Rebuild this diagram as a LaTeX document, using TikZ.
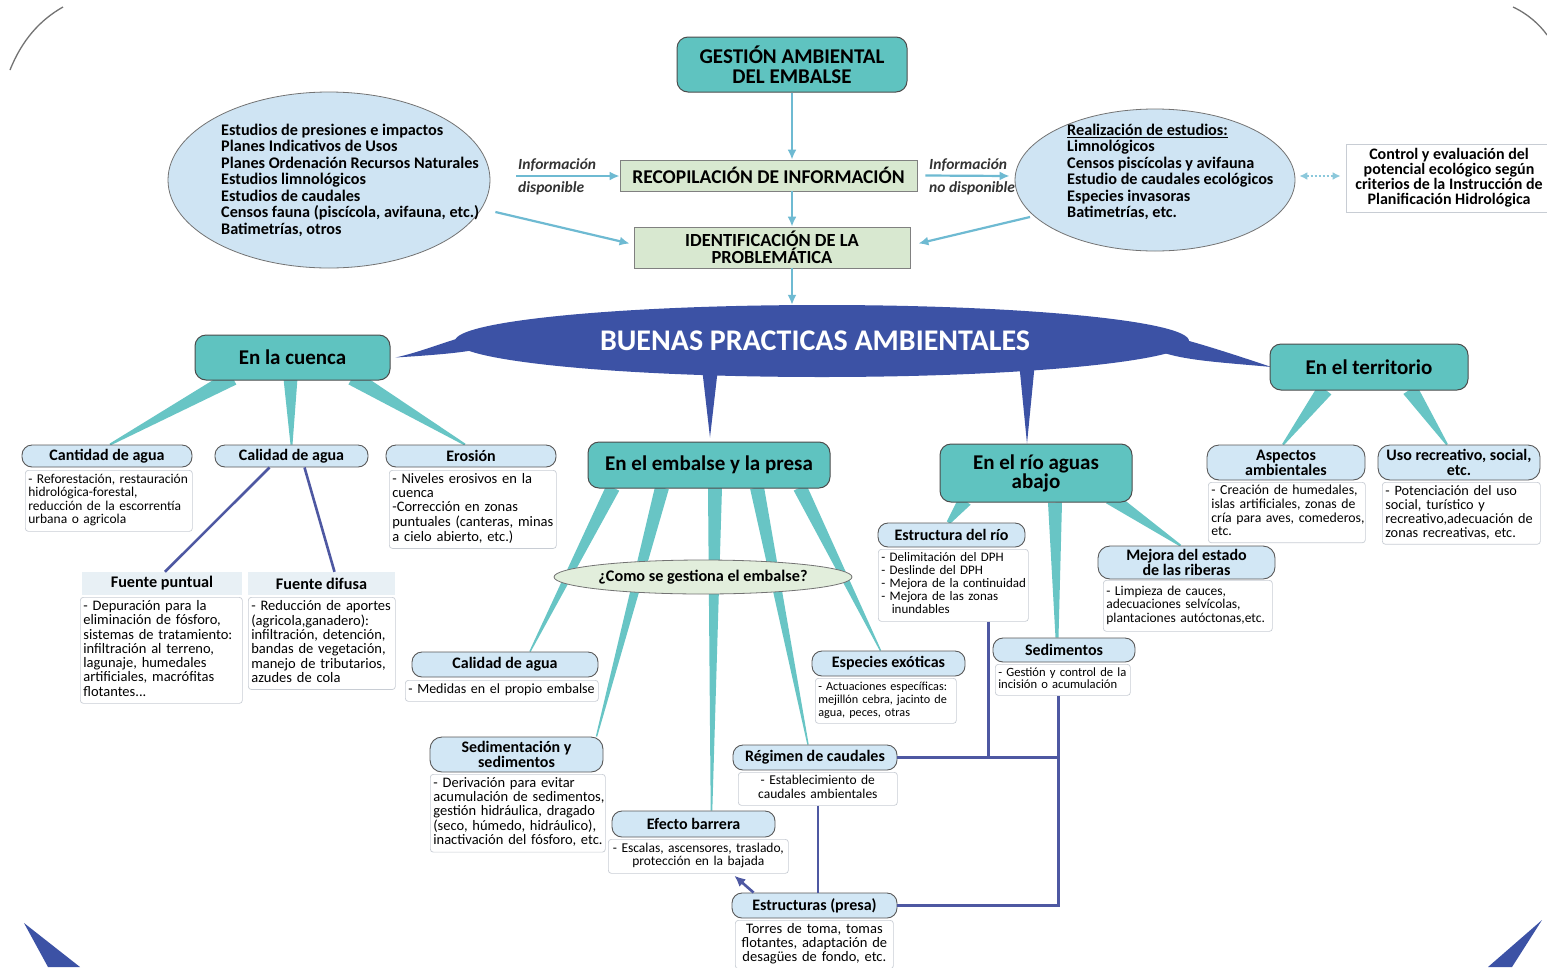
\documentclass[tikz,border=0pt]{standalone}
\usepackage{fontspec}
\setmainfont{Carlito}
\usetikzlibrary{calc,arrows.meta,shapes.geometric}
\pgfdeclarelayer{background}
\pgfsetlayers{background,main}
\definecolor{tealbox}{RGB}{95,195,192}
\definecolor{tealw}{RGB}{104,197,197}
\definecolor{bp}{RGB}{60,82,165}
\definecolor{blinec}{RGB}{78,88,162}
\definecolor{hdrblue}{RGB}{210,231,245}
\definecolor{ellblue}{RGB}{207,228,243}
\definecolor{greenbox}{RGB}{216,232,208}
\definecolor{arrc}{RGB}{110,186,210}
\definecolor{fuentebg}{RGB}{232,240,245}
\definecolor{gestbg}{RGB}{226,238,220}
\definecolor{descgray}{RGB}{200,205,212}
\newcommand{\myfs}[2]{\fontsize{#1}{#2}\selectfont}
\newcommand{\llines}[1]{\begin{tabular}{@{}l@{}}#1\end{tabular}}
\newcommand{\clines}[1]{\begin{tabular}{@{}c@{}}#1\end{tabular}}
\newcommand{\taper}[5]{\fill[#1] ($(#2)!#4!90:(#3)$) -- ($(#3)!#5!-90:(#2)$) -- ($(#3)!#5!90:(#2)$) -- ($(#2)!#4!-90:(#3)$) -- cycle;}
\begin{document}
\begin{tikzpicture}[x=1pt,y=-1pt,
  mainbox/.style={draw=black!70, fill=tealbox, rounded corners=11pt, line width=1pt, align=center, font=\bfseries\myfs{21}{19}, inner sep=0pt},
  greenbx/.style={draw=black!50, fill=greenbox, line width=0.8pt, align=center, inner sep=0pt},
  hdr/.style={draw=black!65, fill=hdrblue, rounded corners=10pt, line width=0.9pt, align=center, font=\bfseries\myfs{16}{15}, inner sep=0pt},
  fuentehdr/.style={fill=fuentebg, align=center, font=\bfseries\myfs{16.2}{15}, inner sep=0pt},
  desc/.style={draw=descgray, fill=white, rounded corners=3pt, line width=0.7pt, align=left, font=\myfs{13.5}{13.5}, inner sep=3pt, anchor=north west},
  desccen/.style={desc, align=center},
  ellbox/.style={ellipse, draw=black!55, fill=ellblue, line width=0.8pt, inner sep=0pt},
  elltext/.style={anchor=west, align=left, inner sep=0pt, font=\bfseries\myfs{16.2}{16.5}},
  infolab/.style={anchor=west, inner sep=0pt, font=\bfseries\itshape\myfs{15.5}{15}, text=black!80},
  toparrow/.style={draw=arrc, line width=2.2pt, -{Latex[length=10pt,width=9pt]}},
  blueconn/.style={draw=blinec, line width=2.6pt},
]
\useasboundingbox (0,0) rectangle (1547,967);
\begin{pgfonlayer}{background}
\fill[white] (0,0) rectangle (1547,967);
\end{pgfonlayer}

% corner decorations
\draw[black!55, line width=1.3pt] (10,70) .. controls (22,40) and (40,20) .. (63,7);
\draw[black!55, line width=1.3pt] (1513,7) .. controls (1528,14) and (1540,25) .. (1547,35);
\fill[bp] (24,923) -- (80,967) -- (48,967) -- cycle;
\fill[bp] (1542,920) -- (1512,967) -- (1488,967) -- cycle;

% top part
\node[mainbox, minimum width=230, minimum height=55, font=\bfseries\myfs{21}{19.5}] (gestion) at (792,64.5) {GESTIÓN AMBIENTAL\\DEL EMBALSE};
\node[greenbx, minimum width=297, minimum height=31, font=\bfseries\myfs{19.5}{18}] (recop) at (768.5,175.5) {RECOPILACIÓN DE INFORMACIÓN};
\node[greenbx, minimum width=276, minimum height=41, font=\bfseries\myfs{18.5}{16.5}] (ident) at (772,247.5) {IDENTIFICACIÓN DE LA\\PROBLEMÁTICA};

\node[ellbox, minimum width=322, minimum height=176] (leftell) at (329,180) {};
\node[elltext] (lefttxt) at (221,180) {Estudios de presiones e impactos\\Planes Indicativos de Usos\\Planes Ordenación Recursos Naturales\\Estudios limnológicos\\Estudios de caudales\\Censos fauna (piscícola, avifauna, etc.)\\Batimetrías, otros};

\node[ellbox, minimum width=280, minimum height=142] (rightell) at (1155,180) {};
\node[elltext] (righttxt) at (1067,172) {\underline{Realización de estudios:}\\Limnológicos\\Censos piscícolas y avifauna\\Estudio de caudales ecológicos\\Especies invasoras\\Batimetrías, etc.};

\node[draw=descgray, fill=white, line width=0.8pt, align=center, inner sep=0pt, minimum width=206, minimum height=68, font=\bfseries\myfs{16}{15}] (ctrl) at (1449,178) {Control y evaluación del\\potencial ecológico según\\criterios de la Instrucción de\\Planificación Hidrológica};

\node[infolab] (il1) at (518,165) {Información};
\node[infolab] (il2) at (518,188) {disponible};
\node[infolab] (ir1) at (929,165) {Información};
\node[infolab] (ir2) at (929,188) {no disponible};

\coordinate (ia) at (516,176);
\coordinate (la2) at ($(leftell.east)+(5,32)$);
\coordinate (ra2) at ($(rightell.center)+(-125,37)$);

\draw[toparrow] (gestion.south) -- (gestion.south |- recop.north);
\draw[toparrow] (recop.south -| gestion.south) -- (ident.north -| gestion.south);
\draw[toparrow] (ia) -- (ia -| recop.west);
\draw[toparrow] ($(recop.east)+(8,0)$) -- ($(rightell.west)+(-5,-4)$);
\draw[toparrow] (la2) -- ($(ident.west)+(-4,-4)$);
\draw[toparrow] (ra2) -- ($(ident.east)+(8,-4)$);
\draw[draw=arrc!80, line width=2pt, dotted, {Latex[length=8pt,width=8pt]}-{Latex[length=8pt,width=8pt]}] ($(rightell.east)+(4,-4)$) -- ($(ctrl.west)+(-5,-2)$);

% central ellipse
\node[ellipse, fill=bp, minimum width=734, minimum height=72, inner sep=0pt] (buenas) at (822,341) {};
\node[text=white, font=\bfseries\myfs{30}{28}, inner sep=0pt] (buenastxt) at (815,341) {BUENAS PRACTICAS AMBIENTALES};
\draw[toparrow] (ident.south -| gestion.south) -- (buenas.north -| gestion.south);

% level 1 boxes
\node[mainbox, minimum width=195, minimum height=45] (cuenca) at (292.5,357.5) {En la cuenca};
\node[mainbox, minimum width=198, minimum height=46] (territorio) at (1369,367) {En el territorio};
\node[mainbox, minimum width=242, minimum height=46] (embalse) at (709,465) {En el embalse y la presa};
\node[mainbox, minimum width=192, minimum height=58] (rio) at (1036,473) {En el río aguas\\abajo};

% spikes of the central ellipse
\coordinate (spL) at ($(cuenca.east)+(5,0)$);
\coordinate (spR) at ($(territorio.west)+(2,0)$);
\coordinate (spB1) at ($(embalse.north)+(1,-4)$);
\coordinate (spB2) at ($(rio.north)+(-9,0)$);
\begin{pgfonlayer}{background}
\fill[bp] ($(buenas.west)+(30,-10)$) .. controls ($(buenas.west)+(-10,0)$) and ($(buenas.west)+(-30,10)$) .. (spL) .. controls ($(buenas.west)+(-20,14)$) and ($(buenas.west)+(5,12)$) .. ($(buenas.west)+(25,8)$) -- cycle;
\fill[bp] ($(buenas.east)+(-30,-8)$) .. controls ($(buenas.east)+(10,2)$) and ($(buenas.east)+(40,12)$) .. (spR) .. controls ($(buenas.east)+(40,22)$) and ($(buenas.east)+(0,20)$) .. ($(buenas.east)+(-25,12)$) -- cycle;
\fill[bp] (702,368) -- (spB1) -- (718,368) -- cycle;
\fill[bp] (1019,362) -- (spB2) -- (1035,362) -- cycle;
\end{pgfonlayer}

% En la cuenca
\node[hdr, minimum width=170, minimum height=22] (cantidad) at (107,456) {Cantidad de agua};
\node[hdr, minimum width=153, minimum height=22] (calidad1) at (291.5,456) {Calidad de agua};
\node[hdr, minimum width=170, minimum height=22] (erosion) at (471,456) {Erosión};
\node[desc, text width=161, minimum height=61] (cantidadd) at (25,470) {\llines{- Reforestación, restauración\\hidrológica-forestal,\\reducción de la escorrentía\\urbana o agricola}};
\node[desc, text width=161, minimum height=76, font=\myfs{14.5}{14}] (erosiond) at (389,470) {\llines{- Niveles erosivos en la\\cuenca\\-Corrección en zonas\\puntuales (canteras, minas\\a cielo abierto, etc.)}};
\node[fuentehdr, minimum width=160, minimum height=23] (fpuntual) at (162,583.5) {Fuente puntual};
\node[fuentehdr, minimum width=147, minimum height=23] (fdifusa) at (321.5,583.5) {Fuente difusa};
\node[desc, text width=156, minimum height=106, font=\myfs{14.5}{14}] (fpuntuald) at (80,597) {\llines{- Depuración para la\\eliminación de fósforo,\\sistemas de tratamiento:\\infiltración al terreno,\\lagunaje, humedales\\artificiales, macrófitas\\flotantes...}};
\node[desc, text width=141, minimum height=88, font=\myfs{14.5}{14}] (fdifusad) at (248,597) {\llines{- Reducción de aportes\\(agricola,ganadero):\\infiltración, detención,\\bandas de vegetación,\\manejo de tributarios,\\azudes de cola}};

% En el embalse
\node[ellipse, draw=black!55, fill=gestbg, line width=0.8pt, minimum width=298, minimum height=34, inner sep=0pt, font=\bfseries\myfs{16.2}{15}] (gestiona) at (703,577) {¿Como se gestiona el embalse?};
\node[hdr, minimum width=186, minimum height=25] (calidad2) at (505,664.5) {Calidad de agua};
\node[desc, text width=187, minimum height=21, font=\myfs{14}{14}] (calidad2d) at (405,680) {\llines{- Medidas en el propio embalse}};
\node[hdr, minimum width=173, minimum height=35, rounded corners=12pt] (sedim) at (516.5,754.5) {Sedimentación y\\sedimentos};
\node[desc, text width=169, minimum height=77, font=\myfs{14.5}{14}] (sedimd) at (430,774) {\llines{- Derivación para evitar\\acumulación de sedimentos,\\gestión hidráulica, dragado\\(seco, húmedo, hidráulico),\\inactivación del fósforo, etc.}};
\node[hdr, minimum width=163, minimum height=26] (efecto) at (693.5,824) {Efecto barrera};
\node[desccen, text width=174, minimum height=34] (efectod) at (608,839) {\clines{- Escalas, ascensores, traslado,\\protección en la bajada}};
\node[hdr, minimum width=164, minimum height=25] (regimen) at (815,757.5) {Régimen de caudales};
\node[desccen, text width=153, minimum height=31] (regimend) at (738,772) {\clines{- Establecimiento de\\caudales ambientales}};
\node[hdr, minimum width=153, minimum height=25] (especies) at (888.5,663.5) {Especies exóticas};
\node[desc, text width=135, minimum height=44, font=\myfs{12.2}{13}] (especiesd) at (815,678) {\llines{- Actuaciones específicas:\\mejillón cebra, jacinto de\\agua, peces, otras}};
\node[hdr, minimum width=165, minimum height=25] (estruct) at (814.5,905.5) {Estructuras (presa)};
\node[desccen, text width=152, minimum height=46, font=\myfs{14.5}{13.5}] (estructd) at (735,920) {\clines{Torres de toma, tomas\\flotantes, adaptación de\\desagües de fondo, etc.}};

% En el rio
\node[hdr, minimum width=147, minimum height=24] (estrio) at (951.5,535) {Estructura del río};
\node[desc, text width=144, minimum height=72, font=\myfs{13}{13}] (estriod) at (878,549) {\llines{- Delimitación del DPH\\- Deslinde del DPH\\- Mejora de la continuidad\\- Mejora de las zonas\\\hspace*{0.8em}inundables}};
\node[hdr, minimum width=142, minimum height=24] (sedimentos) at (1064,650) {Sedimentos};
\node[desc, text width=129, minimum height=30, font=\myfs{12.6}{12.5}] (sedimentosd) at (995,664) {\llines{- Gestión y control de la\\incisión o acumulación}};
\node[hdr, minimum width=177, minimum height=33, rounded corners=12pt] (mejora) at (1186.5,562.5) {Mejora del estado\\de las riberas};
\node[desc, text width=163, minimum height=51] (mejorad) at (1103,580) {\llines{- Limpieza de cauces,\\adecuaciones selvícolas,\\plantaciones autóctonas,etc.}};

% En el territorio
\node[hdr, minimum width=158, minimum height=35, rounded corners=12pt] (aspectos) at (1286,462.5) {Aspectos\\ambientales};
\node[desc, text width=151, minimum height=58, font=\myfs{13.8}{13.5}] (aspectosd) at (1208,482) {\llines{- Creación de humedales,\\islas artificiales, zonas de\\cría para aves, comederos,\\etc.}};
\node[hdr, minimum width=162, minimum height=35, rounded corners=12pt] (uso) at (1459,462.5) {Uso recreativo, social,\\etc.};
\node[desc, text width=152, minimum height=58, font=\myfs{14.3}{13.5}] (usod) at (1382,482) {\llines{- Potenciación del uso\\social, turístico y\\recreativo,adecuación de\\zonas recreativas, etc.}};

% tapered teal connectors
\coordinate (c1a) at ($(cuenca.south)+(-60,-3)$);
\coordinate (c1b) at ($(cantidad.north)+(3,0)$);
\coordinate (c2a) at ($(cuenca.south)+(-2,-2)$);
\coordinate (c2b) at ($(calidad1.north)+(0,0)$);
\coordinate (c3a) at ($(cuenca.south)+(60,-3)$);
\coordinate (c3b) at ($(erosion.north)+(-6,0)$);
\coordinate (e1a) at ($(embalse.south)+(-96,-1)$);
\coordinate (e1b) at ($(calidad2.north)+(25,0)$);
\coordinate (e2a) at ($(embalse.south)+(-47,-1)$);
\coordinate (e2b) at ($(sedim.north)+(80,0)$);
\coordinate (e3a) at ($(embalse.south)+(6,-1)$);
\coordinate (e3b) at ($(efecto.north)+(18,0)$);
\coordinate (e4a) at ($(embalse.south)+(48,-1)$);
\coordinate (e4b) at ($(regimen.north)+(-7,0)$);
\coordinate (e5a) at ($(embalse.south)+(91,-1)$);
\coordinate (e5b) at ($(especies.north)+(-8,0)$);
\coordinate (r1a) at ($(rio.south)+(-71,-2)$);
\coordinate (r1b) at ($(estrio.north)+(-3,0)$);
\coordinate (r2a) at ($(rio.south)+(19,0)$);
\coordinate (r2b) at ($(sedimentos.north)+(-7,0)$);
\coordinate (r3a) at ($(rio.south)+(74,-5)$);
\coordinate (r3b) at ($(mejora.north)+(-6,0)$);
\coordinate (t1a) at ($(territorio.south)+(-44,-1)$);
\coordinate (t1b) at ($(aspectos.north)+(-3,0)$);
\coordinate (t2a) at ($(territorio.south)+(41,-1)$);
\coordinate (t2b) at ($(uso.north)+(-12,0)$);
\begin{pgfonlayer}{background}
\taper{tealw}{c1a}{c1b}{8pt}{1pt}
\taper{tealw}{c2a}{c2b}{7pt}{1pt}
\taper{tealw}{c3a}{c3b}{8pt}{1pt}
\taper{tealw}{e1a}{e1b}{7pt}{0.7pt}
\taper{tealw}{e2a}{e2b}{7pt}{0.7pt}
\taper{tealw}{e3a}{e3b}{7pt}{0.8pt}
\taper{tealw}{e4a}{e4b}{7pt}{0.7pt}
\taper{tealw}{e5a}{e5b}{7pt}{0.7pt}
\taper{tealw}{r1a}{r1b}{7pt}{2pt}
\taper{tealw}{r2a}{r2b}{7pt}{1.5pt}
\taper{tealw}{r3a}{r3b}{7pt}{1pt}
\taper{tealw}{t1a}{t1b}{8pt}{1pt}
\taper{tealw}{t2a}{t2b}{8pt}{1pt}
\end{pgfonlayer}

% blue connectors
\draw[blueconn] ($(calidad1.south)+(-22,0)$) -- ($(fpuntual.north)+(3,0)$);
\draw[blueconn] ($(calidad1.south)+(13,0)$) -- ($(fdifusa.north)+(13,0)$);
\draw[blueconn] (regimend.south) -- (regimend.south |- estruct.north);
\draw[blueconn, -{Latex[length=11pt,width=10pt]}] ($(estruct.north west)+(22,0)$) -- ($(efectod.south)+(36,2)$);
\coordinate (sedbot) at ($(sedimentosd.south)+(-4.5,0)$);
\coordinate (riobot) at ($(estriod.south)+(35,0)$);
\draw[blueconn] (regimen.east) -- (regimen.east -| sedbot);
\draw[blueconn] (riobot) -- (riobot |- regimen.east);
\draw[blueconn] (estruct.east) -| (sedbot);
\end{tikzpicture}
\end{document}
